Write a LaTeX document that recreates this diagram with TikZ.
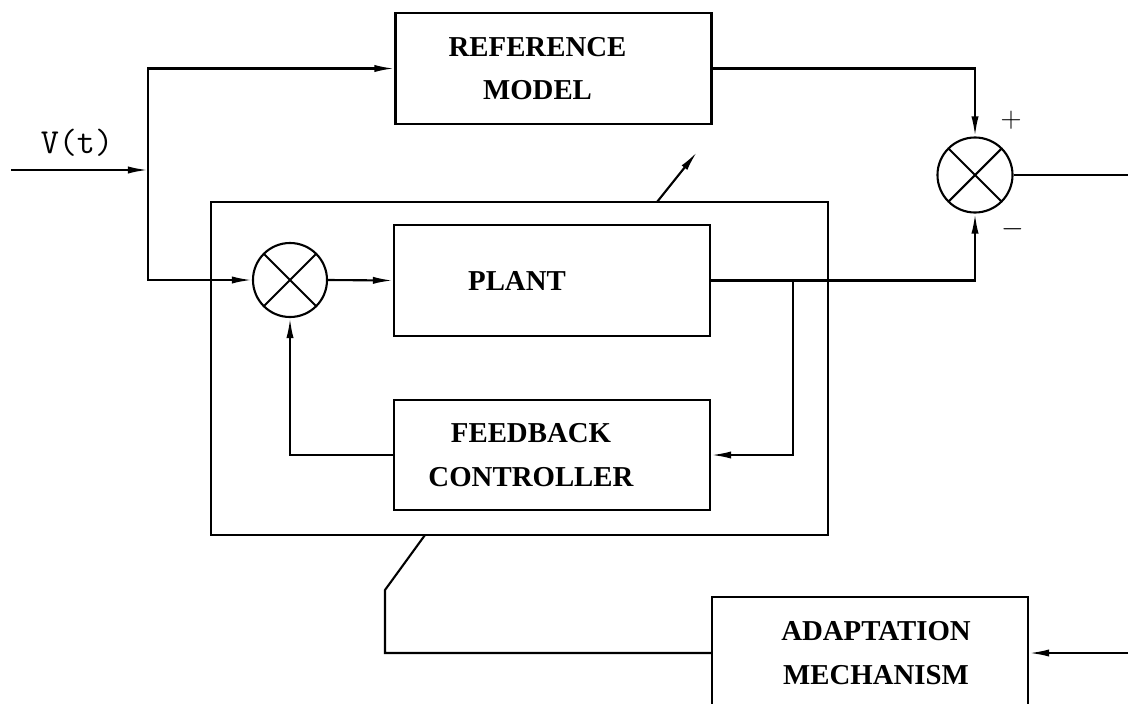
\documentclass[tikz,border=0pt]{standalone}
\usepackage{fontspec}
\newfontfamily\boxfont{Liberation Serif}
\usetikzlibrary{arrows.meta}
\tikzset{
	blk/.style={draw, minimum width=7.9cm, minimum height=2.775cm, inner sep=0pt},
	lbl/.style={font=\boxfont\bfseries\fontsize{20.5}{31}\selectfont, align=center},
	sum/.style={draw, circle, minimum size=1.85cm, inner sep=0pt,
		path picture={\draw (path picture bounding box.north west) -- (path picture bounding box.south east)
			(path picture bounding box.north east) -- (path picture bounding box.south west);}},
	sig/.style={-{Latex[length=5mm,width=1.8mm]}},
}
\begin{document}
\begin{tikzpicture}[x=0.025cm, y=-0.025cm, line width=1.5pt]
	\useasboundingbox (0,0) rectangle (1132,704);
	\clip (0,0) rectangle (1132,704);
	\node [blk, label={[lbl, xshift=-0.4cm]center:REFERENCE\\MODEL}] (ref) at (553.5,68.5) {};
	\node [blk, label={[lbl, xshift=-0.875cm]center:PLANT}] (plant) at (552,280.5) {};
	\node [blk, minimum height=2.75cm, label={[lbl, xshift=-0.525cm]center:FEEDBACK\\CONTROLLER}] (fb) at (552,455) {};
	\node [blk, minimum height=2.8cm, label={[lbl, xshift=0.15cm]center:ADAPTATION\\MECHANISM}] (adapt) at (870,653) {};
	\node [draw, minimum width=15.425cm, minimum height=8.325cm] (loop) at (519.5,368.5) {};
	\node [sum] (sum1) at (290,280) {};
	\node [sum, minimum size=1.875cm] (sum2) at (975,175) {};
	\node [font=\ttfamily\fontsize{25}{30}\selectfont] (vt) at (77,143) {V(t)};
	\node [font=\fontsize{22}{26}\selectfont] (plus) at (1011,120) {$+$};
	\node [font=\fontsize{22}{26}\selectfont] (minus) at (1013,229) {$-$};
	\coordinate (in) at (11,170);
	\coordinate (split) at (148,170);
	\coordinate (out) at (1128,175);
	\coordinate (tap) at (793,280.5);
	\coordinate (tunefoot) at (657,202);
	\coordinate (tunehead) at (697,152);
	\coordinate (link) at (425,535);
	\coordinate (bend) at (385,590);
	\coordinate (err) at (1128,653);
	\draw [sig] (in) -- (split);
	\draw [sig] (split) |- (ref.west);
	\draw [sig] (split) |- (sum1.west);
	\draw [sig] (sum1.east) -- (plant.west);
	\draw [sig] (ref.east) -| (sum2.north);
	\draw [sig] (plant.east) -| (sum2.south);
	\draw (sum2.east) -- (out);
	\draw [sig] (tap) |- (fb.east);
	\draw [sig] (fb.west) -| (sum1.south);
	\draw [sig] (tunefoot) -- (tunehead);
	\draw (link) -- (bend) |- (adapt.west);
	\draw [sig] (err) -- (adapt.east);
\end{tikzpicture}
\end{document}
